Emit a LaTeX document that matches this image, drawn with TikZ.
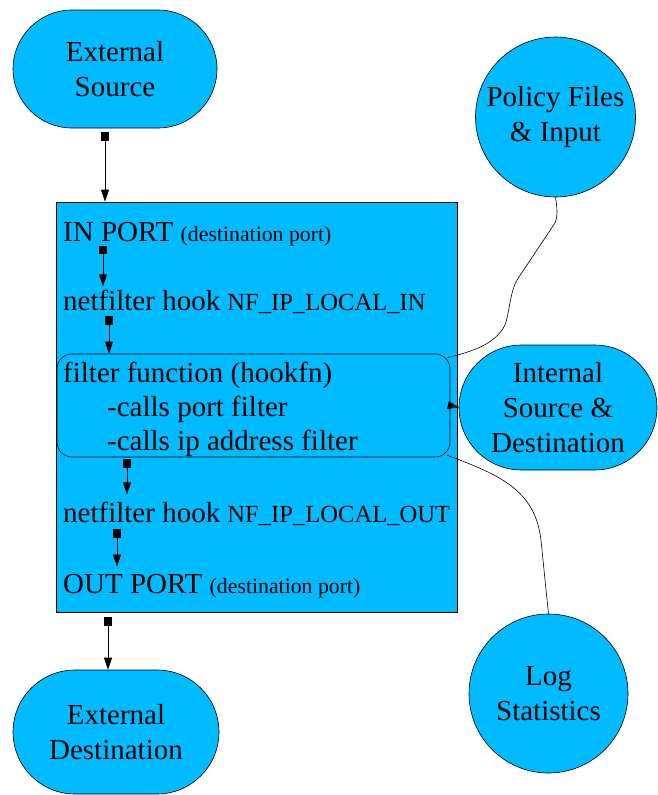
\documentclass[tikz,border=0pt]{standalone}
\usepackage{fontspec}
\setmainfont{Liberation Serif}
\usetikzlibrary{arrows.meta,shapes.misc,shapes.geometric}
\definecolor{sky}{RGB}{0,187,255}
\begin{document}
\begin{tikzpicture}[x=1pt,y=-1pt,
  big/.style={font=\fontsize{29}{35}\selectfont},
  stadium/.style={rounded rectangle, draw=black, fill=sky, line width=0.6pt, inner sep=0pt, align=center, big},
  disc/.style={circle, draw=black, fill=sky, line width=0.6pt, inner sep=0pt, align=center, big},
  txt/.style={inner sep=0pt, anchor=base west, big},
  conn/.style={line width=0.7pt, {Square[length=8pt,width=8pt]}-{Triangle[length=12pt,width=8pt]}},
  plain/.style={line width=0.6pt}]
\useasboundingbox (0,0) rectangle (657,795);

% outer nodes
\node[stadium, minimum width=204pt, minimum height=118pt] (extsrc) at (115,69) {External\\Source};
\node[stadium, minimum width=206pt, minimum height=124pt] (extdst) at (116,732) {External\\Destination};
\node[disc, minimum size=160pt] (policy) at (555.5,117) {Policy Files\\\& Input};
\node[stadium, minimum width=198pt, minimum height=125pt] (internal) at (558,407.5) {Internal\\Source \&\\Destination};
\node[disc, minimum size=159pt] (log) at (548.5,693.5) {Log\\Statistics};

% main box
\node[draw=black, fill=sky, line width=0.7pt, minimum width=401pt, minimum height=410pt, inner sep=0pt] (box) at (256.5,407) {};
\node[draw=black, fill=sky, line width=0.6pt, rounded corners=15pt, minimum width=393pt, minimum height=103pt, inner sep=0pt] (inner) at (253.5,405.5) {};

% texts
\node[txt] (inport) at (63,241) {IN PORT {\fontsize{21.8}{25}\selectfont (destination port)}};
\node[txt] (nfin) at (63,310) {netfilter hook {\fontsize{24.6}{28}\selectfont NF\_IP\_LOCAL\_IN}};
\node[txt] (ff) at (63,382) {filter function (hookfn)};
\node[txt] (c1) at (107,416) {-calls port filter};
\node[txt] (c2) at (107,450) {-calls ip address filter};
\node[txt] (nfout) at (63,522) {netfilter hook {\fontsize{24.6}{28}\selectfont NF\_IP\_LOCAL\_OUT}};
\node[txt] (outport) at (63,593) {OUT PORT {\fontsize{21.8}{25}\selectfont (destination port)}};

% connectors
\draw[conn, shorten <=4pt] ([xshift=-10pt]extsrc.south) -- ([xshift=-10pt]extsrc.south |- box.north);
\draw[conn, shorten >=3pt] ([xshift=40pt]inport.south west) -- ([xshift=40pt]inport.south west |- nfin.north);
\draw[conn, shorten <=3pt] ([xshift=46pt]nfin.south west) -- ([xshift=46pt]nfin.south west |- inner.north);
\draw[conn, shorten <=2pt, shorten >=7pt] ([xshift=64pt]nfout.north west |- inner.south) -- ([xshift=64pt]nfout.north west);
\draw[conn, shorten <=4pt, shorten >=7pt] ([xshift=54pt]nfout.south west) -- ([xshift=54pt]nfout.south west |- outport.north);
\draw[conn, shorten <=5pt] ([xshift=-8pt]extdst.north |- box.south) -- ([xshift=-8pt]extdst.north);
\draw[line width=0.7pt, -{Triangle[length=11pt,width=8pt]}] (inner.east) -- (internal.west);

\draw[plain] (policy.south) .. controls (558,212) and (557,218) .. (555,223) -- (517,280)
  .. controls (510,292) and (509,315) .. (505,325)
  .. controls (495,345) and (470,352) .. ([shift={(-3pt,-4pt)}]inner.north east);
\draw[plain] ([shift={(-3pt,2pt)}]inner.south east) .. controls (500,475) and (535,490) .. (541,540)
  .. controls (545,580) and (547,600) .. (log.north);
\end{tikzpicture}
\end{document}
